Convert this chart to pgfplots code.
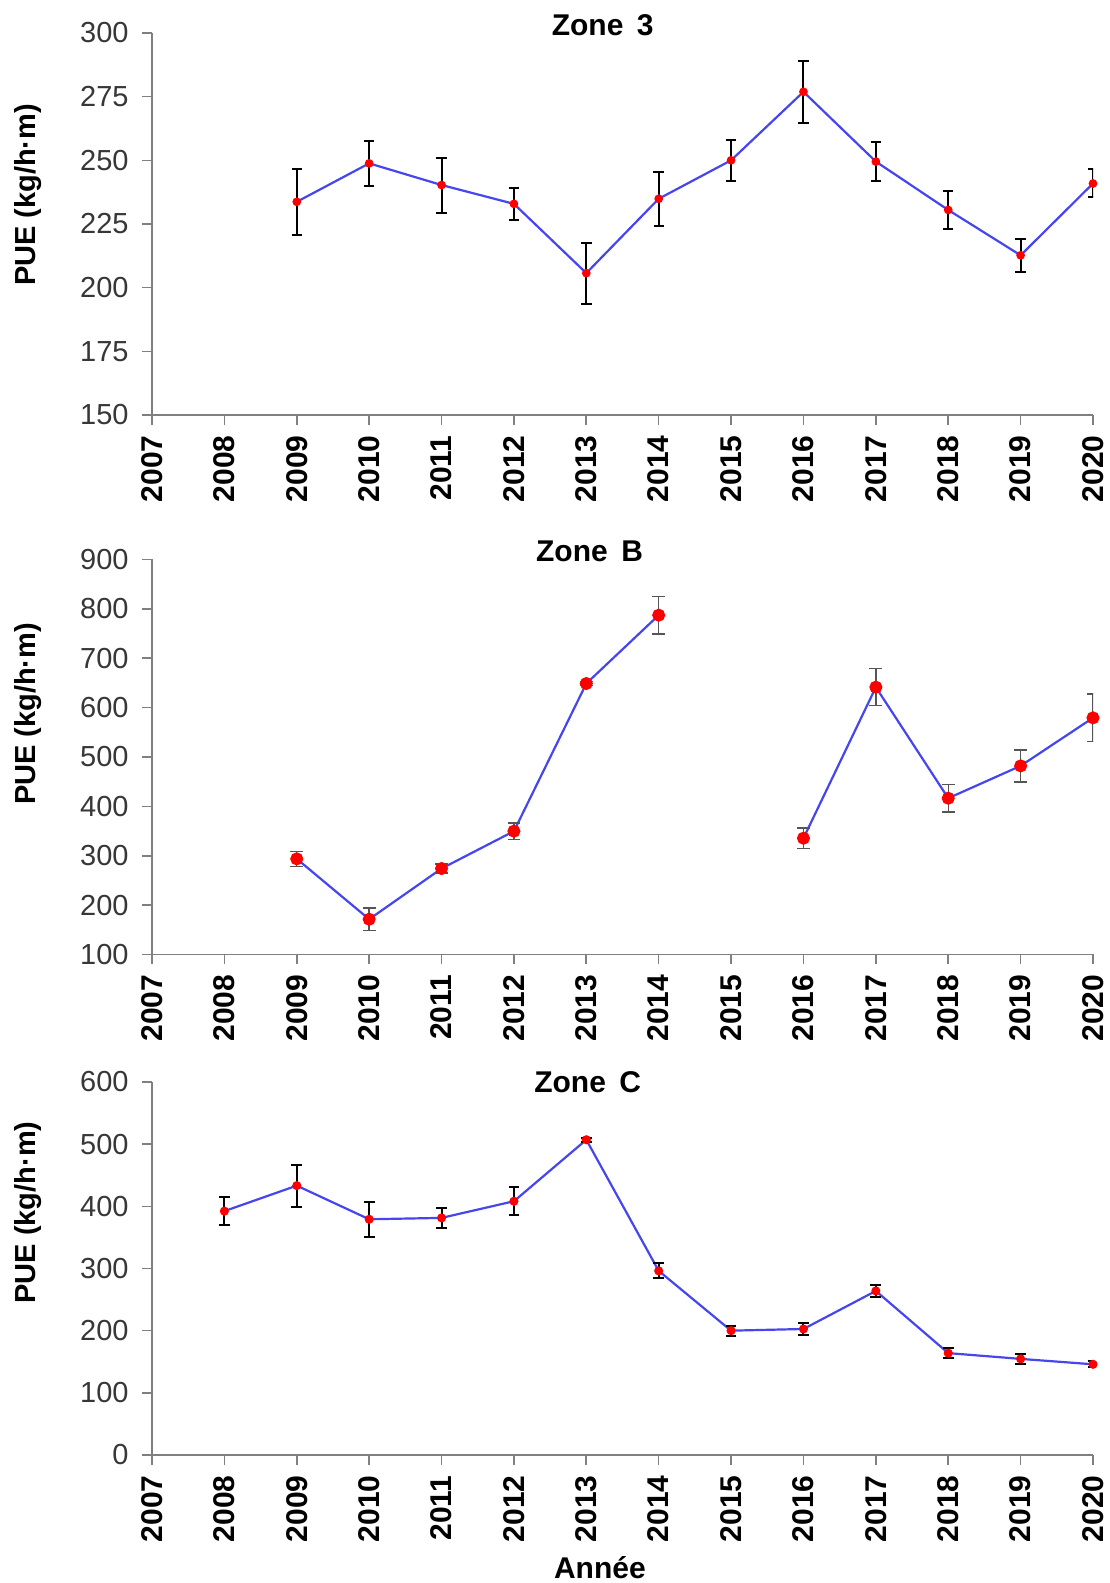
\documentclass[border=0pt]{standalone}
\usepackage{fontspec}
\setmainfont{Liberation Sans}
\usepackage{pgfplots}
\usepackage{pgfplotstable}
\pgfplotsset{compat=1.18}
\definecolor{axgray}{RGB}{128,128,128}
\definecolor{lineblue}{RGB}{70,70,238}
\definecolor{tickgray}{RGB}{55,55,55}
\definecolor{errgray}{RGB}{85,85,85}

\pgfplotstableread{
x y e
2009 233.7 13.0
2010 248.8 8.7
2011 240.3 10.8
2012 232.9 6.2
2013 205.7 12.0
2014 234.9 10.7
2015 250.0 8.1
2016 276.9 12.2
2017 249.5 7.8
2018 230.5 7.4
2019 212.7 6.5
2020 240.9 5.5
}\zonethree

\pgfplotstableread{
x y e
2009 293.7 15.0
2010 171.4 22.6
2011 274.1 8.8
2012 349.7 17.0
2013 648.8 4.0
2014 787.2 37.8
2015 nan nan
2016 335.5 21.0
2017 641.4 37.5
2018 416.5 28.0
2019 482.0 32.5
2020 579.3 48.0
}\zoneb

\pgfplotstableread{
x y e
2008 392.3 22.0
2009 433.3 34.0
2010 379.2 28.4
2011 381.4 16.4
2012 408.2 22.5
2013 507.1 3.0
2014 296.2 12.0
2015 200.0 8.0
2016 202.7 9.0
2017 263.9 10.0
2018 163.9 8.0
2019 154.6 8.0
2020 145.9 5.0
}\zonec

\pgfplotsset{
  zone/.style={
    scale only axis, width=470.5pt, anchor=south west,
    xmin=2007, xmax=2020, xtick={2007,...,2020},
    axis lines*=left,
    axis line style={axgray, line width=0.8pt},
    tick style={axgray, line width=0.8pt},
    tick align=outside, major tick length=5pt,
    /pgf/number format/assume math mode=true,
    /pgf/number format/1000 sep={},
    xticklabel style={rotate=90, anchor=east, inner xsep=0pt, inner ysep=0pt, xshift=-5pt,
      font=\fontsize{15}{18}\selectfont\bfseries},
    yticklabel style={anchor=east, inner sep=0pt, xshift=-6.5pt,
      font=\fontsize{14.5}{17}\selectfont, text=tickgray},
    every axis title shift=0pt,
    title style={font=\fontsize{15}{18}\selectfont\bfseries, anchor=base, inner sep=0pt},
    ylabel={PUE (kg/h·m)},
    ylabel style={font=\fontsize{14.5}{17}\selectfont\bfseries, anchor=base, inner sep=0pt},
    unbounded coords=jump,
  }
}

\begin{document}
\begin{tikzpicture}
\path[use as bounding box] (0pt,0pt) rectangle (554.5pt,791.5pt);

% Zone 3
\begin{axis}[zone, at={(76pt,584pt)}, height=191pt,
  ymin=150, ymax=300, ytick={150,175,...,300},
  title={Zone\hspace{0.45em}3}, title style={at={(0.479,1)}, yshift=-1.5pt},
  ylabel style={at={(axis description cs:-0.1233,0.576)}}]
\addplot[lineblue, line width=1.1pt, mark=*, mark size=1.6pt,
  mark options={fill=red, draw=red},
  error bars/.cd, y dir=both, y explicit,
  error bar style={black, line width=1pt},
  error mark options={rotate=90, black, mark size=2.6pt, line width=1pt}]
  table[x=x, y=y, y error=e] {\zonethree};
\end{axis}

% Zone B
\begin{axis}[zone, at={(76pt,314.25pt)}, height=197.5pt,
  ymin=100, ymax=900, ytick={100,200,...,900},
  title={Zone\hspace{0.45em}B}, title style={at={(0.465,1)}, yshift=-1pt},
  ylabel style={at={(axis description cs:-0.1233,0.609)}}]
\addplot[lineblue, line width=1.1pt, mark=*, mark size=2.7pt,
  mark options={fill=red, draw=red},
  error bars/.cd, y dir=both, y explicit,
  error bar style={errgray, line width=0.7pt},
  error mark options={rotate=90, errgray, mark size=3.2pt, line width=0.7pt}]
  table[x=x, y=y, y error=e] {\zoneb};
\end{axis}

% Zone C
\begin{axis}[zone, at={(76pt,64pt)}, height=186.5pt,
  ymin=0, ymax=600, ytick={0,100,...,600},
  title={Zone\hspace{0.45em}C}, title style={at={(0.463,1)}, yshift=-5pt},
  ylabel style={at={(axis description cs:-0.1233,0.65)}},
  xlabel={Année},
  xlabel style={at={(axis description cs:0.476,-0.3324)}, anchor=base, inner sep=0pt,
    font=\fontsize{15}{18}\selectfont\bfseries}]
\addplot[lineblue, line width=1.1pt, mark=*, mark size=1.7pt,
  mark options={fill=red, draw=red},
  error bars/.cd, y dir=both, y explicit,
  error bar style={black, line width=1pt},
  error mark options={rotate=90, black, mark size=2.7pt, line width=1pt}]
  table[x=x, y=y, y error=e] {\zonec};
\end{axis}
\end{tikzpicture}
\end{document}
